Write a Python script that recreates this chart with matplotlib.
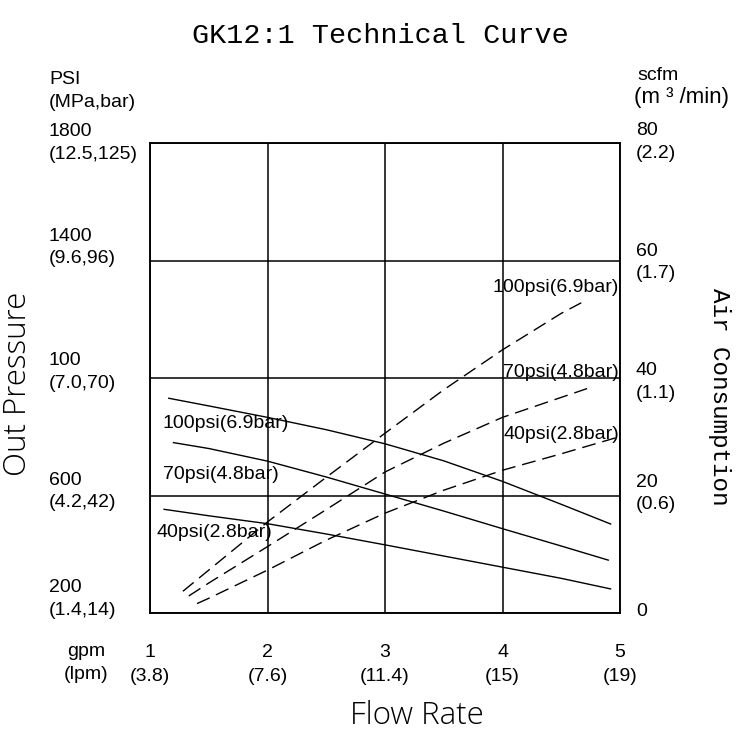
import matplotlib
matplotlib.use("Agg")
import matplotlib.pyplot as plt

# flow rate ticks (gpm) and labels
gpm_ticks = [1, 2, 3, 4, 5]
gpm_labels = ["1\n(3.8)", "2\n(7.6)", "3\n(11.4)", "4\n(15)", "5\n(19)"]

# out pressure axis (left)
psi_ticks = [200, 600, 1000, 1400, 1800]
psi_labels = ["200\n(1.4,14)", "600\n(4.2,42)", "100\n(7.0,70)", "1400\n(9.6,96)", "1800\n(12.5,125)"]

# air consumption axis (right)
scfm_ticks = [0, 20, 40, 60, 80]
scfm_labels = ["0", "20\n(0.6)", "40\n(1.1)", "60\n(1.7)", "80\n(2.2)"]

curve_names = ["100psi(6.9bar)", "70psi(4.8bar)", "40psi(2.8bar)"]

# out pressure curves (solid)
p100_gpm = [1.16, 1.5, 2.0, 2.5, 3.0, 3.5, 4.0, 4.5, 4.92]
p100_psi = [931, 905, 866, 824, 776, 718, 648, 570, 503]
p70_gpm = [1.20, 1.5, 2.0, 2.5, 3.0, 3.5, 4.0, 4.5, 4.90]
p70_psi = [780, 760, 717, 663, 605, 547, 487, 428, 380]
p40_gpm = [1.12, 1.5, 2.0, 2.5, 3.0, 3.5, 4.0, 4.5, 4.92]
p40_psi = [553, 531, 504, 469, 432, 394, 356, 318, 282]

# air consumption curves (dashed)
a100_gpm = [1.28, 1.5, 2.0, 2.5, 3.0, 3.5, 4.0, 4.5, 4.67]
a100_scfm = [3.7, 7.3, 15.5, 23.1, 30.6, 38.0, 44.8, 51.0, 52.8]
a70_gpm = [1.33, 1.5, 2.0, 2.5, 3.0, 3.5, 4.0, 4.5, 4.72]
a70_scfm = [2.9, 5.1, 11.3, 17.6, 24.0, 28.9, 33.3, 36.7, 38.2]
a40_gpm = [1.40, 1.5, 2.0, 2.5, 3.0, 3.5, 4.0, 4.5, 4.96]
a40_scfm = [1.6, 2.5, 7.3, 12.4, 17.0, 20.9, 24.3, 27.1, 29.8]

plt.rcParams['font.family'] = ['Liberation Sans', 'DejaVu Sans']

fig = plt.figure(figsize=(7.5, 7.5), dpi=100)
fig.patch.set_facecolor('white')
ax = fig.add_axes([150/750, 137/750, 470/750, 470/750])
ax2 = ax.twinx()

ax.set_xlim(1, 5)
ax.set_ylim(200, 1800)
ax2.set_ylim(0, 80)

ax.set_xticks(gpm_ticks)
ax.set_xticklabels(gpm_labels, fontsize=14, linespacing=1.6)
ax.set_yticks(psi_ticks)
ax.tick_params(axis='x', length=0, pad=22)
ax.tick_params(axis='y', length=0, labelleft=False)
ax.grid(True, color='black', lw=1.1)
ax.set_axisbelow(True)

ax2.set_yticks(scfm_ticks)
ax2.tick_params(axis='y', length=0, labelright=False)

for a in (ax, ax2):
    for s in a.spines.values():
        s.set_linewidth(1.1)
        s.set_color('black')

# left pressure labels, nudged like the original sheet
nudges = [14, 4, 6, 13, 0]
for v, lab, dy in zip(psi_ticks, psi_labels, nudges):
    ax.annotate(lab, xy=(0, v), xycoords=('axes fraction', 'data'),
                xytext=(-101, dy), textcoords='offset pixels',
                ha='left', va='center', fontsize=14, linespacing=1.45)

# right air consumption labels
nudges_r = [2, 2, -4, -2, 1]
for v, lab, dy in zip(scfm_ticks, scfm_labels, nudges_r):
    ax2.annotate(lab, xy=(1, v), xycoords=('axes fraction', 'data'),
                 xytext=(16, dy), textcoords='offset pixels',
                 ha='left', va='center', fontsize=14, linespacing=1.45)

# solid pressure curves
ax.plot(p100_gpm, p100_psi, color='black', lw=1.0)
ax.plot(p70_gpm, p70_psi, color='black', lw=1.0)
ax.plot(p40_gpm, p40_psi, color='black', lw=1.0)

# dashed air consumption curves
for gx, gy in [(a100_gpm, a100_scfm), (a70_gpm, a70_scfm), (a40_gpm, a40_scfm)]:
    ax2.plot(gx, gy, color='black', lw=1.0, dashes=(10, 5))

# curve labels
left_pos = [(0.027, 0.404), (0.028, 0.295), (0.013, 0.171)]
right_pos = [(0.998, 0.693), (0.998, 0.511), (0.998, 0.379)]
for name, (lx, ly), (rx, ry) in zip(curve_names, left_pos, right_pos):
    ax.text(lx, ly, name, transform=ax.transAxes, ha='left', va='center', fontsize=14)
    ax.text(rx, ry, name, transform=ax.transAxes, ha='right', va='center', fontsize=14)

# axis headers
fig.text(49/750, 1 - 91/750, "PSI\n(MPa,bar)", ha='left', va='center', fontsize=14, linespacing=1.45)
fig.text(637/750, 1 - 75/750, "scfm", ha='left', va='center', fontsize=14)
fig.text(634/750, 1 - 98/750, "(m ³ /min)", ha='left', va='center', fontsize=16)
fig.text(86/750, 1 - 663/750, "gpm\n(lpm)", ha='center', va='center', fontsize=14, linespacing=1.5)

fig.text(380/750, 1 - 36/750, "GK12:1 Technical Curve", ha='center', va='center',
         family='Liberation Mono', fontsize=20.5)
fig.text(720/750, 1 - 397/750, "Air Consumption", ha='center', va='center', rotation=270,
         family='Liberation Mono', fontsize=17.5)
fig.text(18/750, 1 - 384/750, "Out Pressure", ha='center', va='center', rotation=90,
         family='Open Sans', fontweight='light', fontsize=22.5)
fig.text(417/750, 1 - 716/750, "Flow Rate", ha='center', va='center',
         family='Open Sans', fontweight='light', fontsize=22.5)

fig.savefig("out.png", dpi=100, facecolor='white')
